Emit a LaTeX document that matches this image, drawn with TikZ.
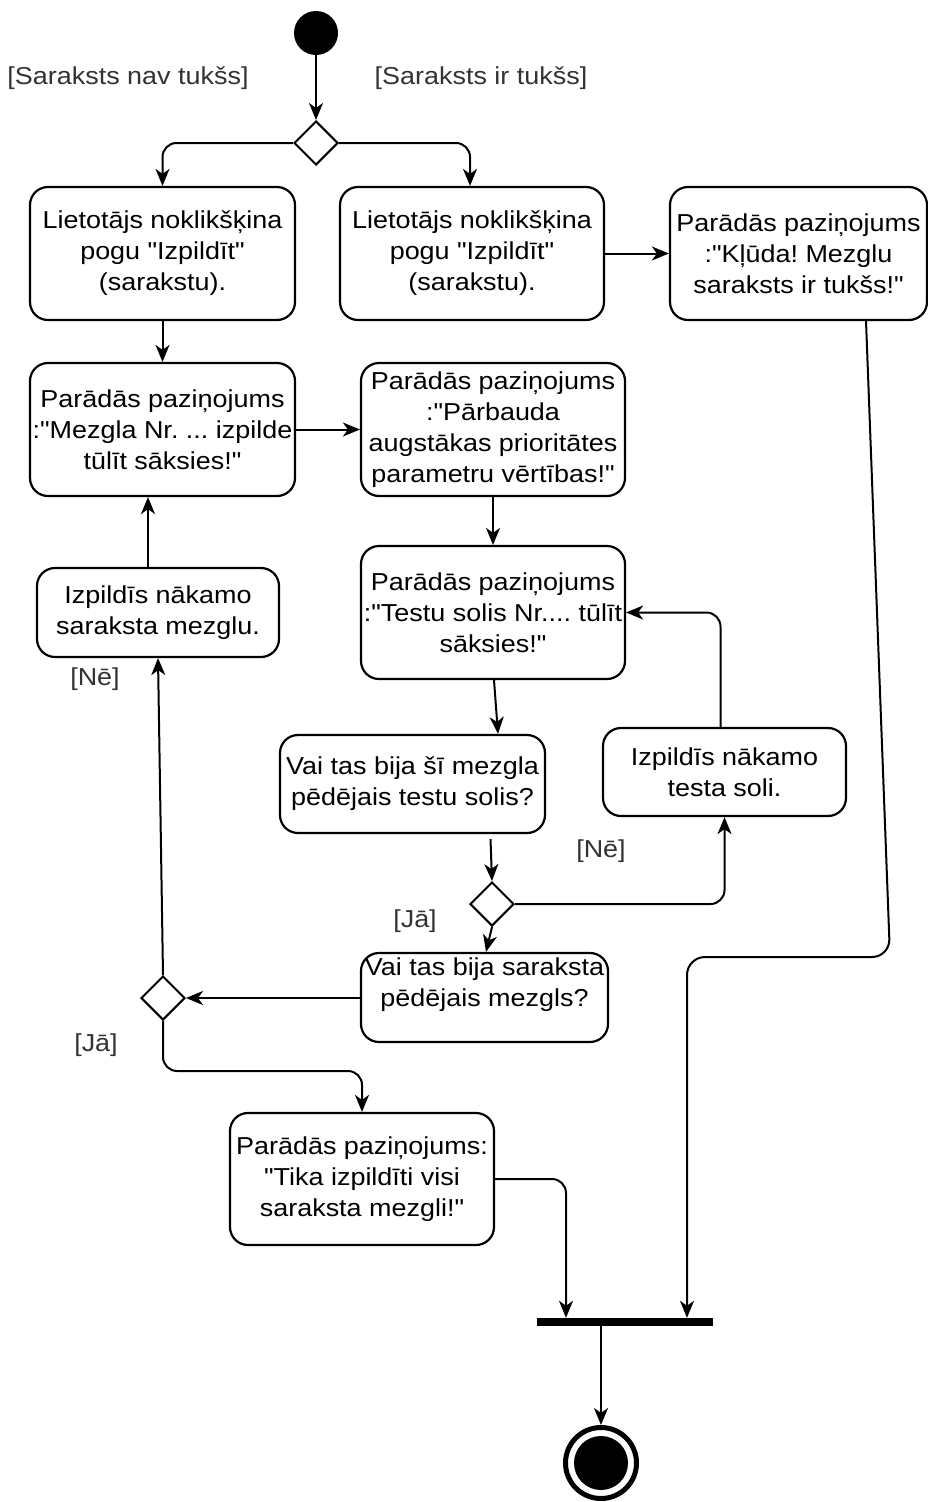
\documentclass[tikz,border=0pt]{standalone}
\usepackage{fontspec}
\setmainfont{Liberation Sans}[FakeStretch=1.1,Ligatures=TeXOff]
\usepackage{tikz}
\usetikzlibrary{positioning,arrows.meta,shapes.geometric}
\frenchspacing

\begin{document}
\begin{tikzpicture}[x=1pt,y=-1pt,auto,
    every node/.style={font=\fontsize{24.5}{31}\selectfont,inner sep=0pt},
    actbox/.style={draw,line width=2.2pt,rounded corners=18pt,align=center},
    choice/.style={draw,diamond,line width=2pt,minimum width=44pt,minimum height=44pt,aspect=1},
    guard/.style={text=black!80},
    flow/.style={line width=2pt,-{Stealth[length=17pt,width=14pt,inset=5pt]}}]
    \useasboundingbox (0,0) rectangle (928,1502);
    \node[circle,fill,minimum size=44pt] (start) at (316,33) {};
    \node[choice] (split) at (316,143) {};
    \node[guard] (notempty) at (128,78) {[Saraksts nav tukšs]};
    \node[guard] (empty) at (481,78) {[Saraksts ir tukšs]};
    \node[actbox,minimum width=265pt,minimum height=133pt] (runA) at (162.5,253.5) {Lietotājs noklikšķina\\pogu "Izpildīt"\\(sarakstu).};
    \node[actbox,minimum width=264pt,minimum height=133pt] (runB) at (472,253.5) {Lietotājs noklikšķina\\pogu "Izpildīt"\\(sarakstu).};
    \node[actbox,minimum width=257pt,minimum height=133pt] (errmsg) at (798.5,253.5) {Parādās paziņojums\\:"Kļūda! Mezglu\\saraksts ir tukšs!"};
    \node[actbox,minimum width=265pt,minimum height=133pt] (nodemsg) at (162.5,429.5) {Parādās paziņojums\\:"Mezgla Nr. ... izpilde\\tūlīt sāksies!"};
    \node[actbox,minimum width=264pt,minimum height=133pt] (checkmsg) at (493,429.5) {Parādās paziņojums\\:"Pārbauda\\augstākas prioritātes\\parametru vērtības!"};
    \node[actbox,minimum width=264pt,minimum height=133pt] (stepmsg) at (493,612.5) {Parādās paziņojums\\:"Testu solis Nr.... tūlīt\\sāksies!"};
    \node[actbox,minimum width=242pt,minimum height=89pt] (nextnode) at (158,612.5) {Izpildīs nākamo\\saraksta mezglu.};
    \node[actbox,minimum width=265pt,minimum height=98pt] (laststep) at (412.5,784) {Vai tas bija šī mezgla\\pēdējais testu solis?};
    \node[actbox,minimum width=243pt,minimum height=88pt] (nextstep) at (724.5,772) {Izpildīs nākamo\\testa soli.};
    \node[choice] (stepchoice) at (492,904) {};
    \node[guard] (stepno) at (601,851) {[Nē]};
    \node[guard] (stepyes) at (415,921) {[Jā]};
    \node[actbox,minimum width=247pt,minimum height=89pt] (lastnode) at (484.5,997.5) {Vai tas bija saraksta\\pēdējais mezgls?\\\mbox{}};
    \node[choice] (nodechoice) at (163,998) {};
    \node[guard] (nodeno) at (95,679) {[Nē]};
    \node[guard] (nodeyes) at (96,1045) {[Jā]};
    \node[actbox,minimum width=264pt,minimum height=132pt] (donemsg) at (362,1179) {Parādās paziņojums:\\"Tika izpildīti visi\\saraksta mezgli!"};
    \node[rectangle,fill,minimum width=176pt,minimum height=8pt] (join) at (625,1322) {};
    \node[circle,draw,line width=5pt,minimum size=71pt] (finish) at (601,1463) {};
    \node[circle,fill,minimum size=54pt] (finishdot) at (finish) {};
    \draw[flow] (start) -- (split);
    \draw[flow,rounded corners=14pt] (split.west) -| (runA.north);
    \draw[flow,rounded corners=14pt] (split.east) -| ([xshift=-2pt]runB.north);
    \draw[flow] (runB) -- (errmsg);
    \draw[flow] (runA) -- (nodemsg);
    \draw[flow] (nodemsg) -- (checkmsg);
    \draw[flow] (checkmsg) -- (stepmsg);
    \draw[flow] ([xshift=-10pt]nextnode.north) -- ([xshift=-10pt]nextnode.north |- nodemsg.south);
    \draw[flow] ([xshift=1pt]stepmsg.south) -- ([xshift=85.5pt]laststep.north);
    \draw[flow] ([xshift=78pt,yshift=-5pt]laststep.south) -- (stepchoice.north);
    \draw[flow,rounded corners=14pt] (stepchoice.east) -| (nextstep.south);
    \draw[flow,rounded corners=14pt] ([xshift=-4pt]nextstep.north) |- (stepmsg.east);
    \draw[flow] (stepchoice.south) -- ([xshift=1.5pt]lastnode.north);
    \draw[flow] (lastnode.west |- nodechoice) -- (nodechoice.east);
    \draw[flow] (nodechoice.north) -- (nextnode.south);
    \draw[flow,rounded corners=14pt] (nodechoice.south) -- ++(0,50) -| (donemsg.north);
    \draw[flow,rounded corners=14pt] (donemsg.east) -| ([xshift=-59pt]join.north);
    \draw[flow,rounded corners=18pt] ([xshift=67.5pt]errmsg.south) -- (890,957) -- (687,957) -- ([xshift=62pt]join.north);
    \draw[flow] ([xshift=-24pt]join.south) -- (finish.north);
\end{tikzpicture}
\end{document}
